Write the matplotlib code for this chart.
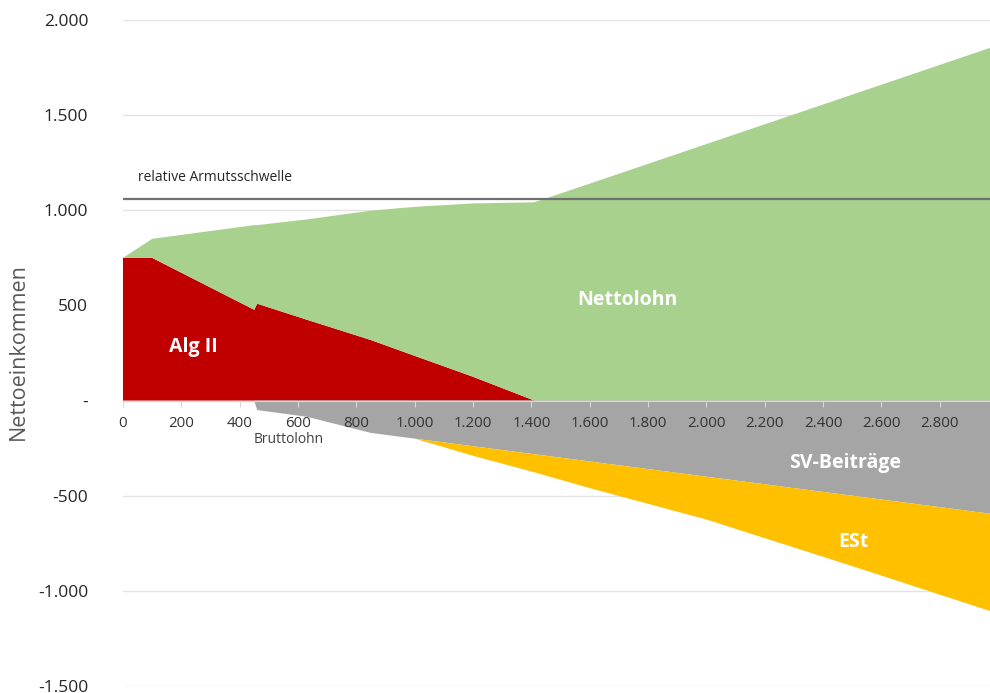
import numpy as np
import matplotlib
matplotlib.use('Agg')
import matplotlib.pyplot as plt
from matplotlib.ticker import FuncFormatter

plt.rcParams['font.family'] = ['Open Sans', 'DejaVu Sans']

# Bruttolohn (EUR / Monat)
brutto = [0, 100, 450, 460, 630, 850, 1000, 1200, 1410, 1600, 2000, 2500, 3000]
# positive Komponenten
alg2 = [750, 750, 477, 509, 425, 318, 235, 125, 0, 0, 0, 0, 0]
nettolohn = [0, 100, 445, 413, 527, 680, 783, 911, 1042, 1140, 1348, 1608, 1868]
# Abzuege (negativ)
sv_beitraege = [0, 0, 0, -50, -85, -170, -200, -240, -282, -320, -400, -500, -600]
est = [0, 0, 0, 0, 0, 0, 0, -50, -95, -140, -225, -370, -520]

armutsschwelle = 1058

x_ticks = list(range(0, 2801, 200))
y_ticks = [-1500, -1000, -500, 0, 500, 1000, 1500, 2000]

c_alg = '#C00000'
c_netto = '#A9D18E'
c_sv = '#A5A5A5'
c_est = '#FFC000'


def de_fmt(v, pos=None):
    if v == 0:
        return '-'
    s = '{:,.0f}'.format(v)
    return s.replace(',', '.')


fig = plt.figure(figsize=(9.9, 6.93), dpi=100)
ax = fig.add_axes([123 / 990, 7 / 693, 867 / 990, 666 / 693])

ax.stackplot(brutto, alg2, nettolohn, colors=[c_alg, c_netto], lw=0, zorder=2)
ax.stackplot(brutto, sv_beitraege, est, colors=[c_sv, c_est], lw=0, zorder=2)

ax.set_xlim(0, 2972)
ax.set_ylim(-1500, 2000)

# Gitter
ax.set_yticks(y_ticks)
ax.yaxis.set_major_formatter(FuncFormatter(de_fmt))
ax.grid(axis='y', color='#e3e3e3', lw=1, zorder=0)
ax.set_axisbelow(True)
ax.tick_params(axis='y', length=0, pad=25, labelsize=12.5, labelcolor='#262626')

# x-Achse auf Hoehe 0
for s in ['top', 'right', 'left']:
    ax.spines[s].set_visible(False)
ax.spines['bottom'].set_position(('data', 0))
ax.spines['bottom'].set_color('#d9d9d9')
ax.spines['bottom'].set_zorder(3)
ax.set_xticks(x_ticks)
ax.xaxis.set_major_formatter(FuncFormatter(lambda v, p: de_fmt(v) if v else '0'))
ax.tick_params(axis='x', direction='out', length=4, color='#d9d9d9',
               pad=7, labelsize=10.8, labelcolor='#333333')
ax.xaxis.set_zorder(5)

# Armutsschwelle
ax.axhline(armutsschwelle, color='#707070', lw=1.6, zorder=4)
ax.text(50, 1174, 'relative Armutsschwelle', fontsize=10, color='#262626',
        va='center', ha='left')

# Beschriftungen der Flaechen
lab = dict(color='white', fontweight='bold', fontsize=14, ha='center',
           va='center', zorder=6)
ax.text(1730, 526, 'Nettolohn', **lab)
ax.text(240, 284, 'Alg II', **lab)
ax.text(2475, -326, 'SV-Beiträge', **lab)
ax.text(2505, -742, 'ESt', **lab)

ax.text(569, -205, 'Bruttolohn', fontsize=10, color='#404040',
        ha='center', va='center', zorder=6)

fig.text(18 / 990, 1 - 352 / 693, 'Nettoeinkommen', rotation=90, fontsize=15.5,
         color='#595959', ha='center', va='center')

fig.savefig('out.png', dpi=100)
